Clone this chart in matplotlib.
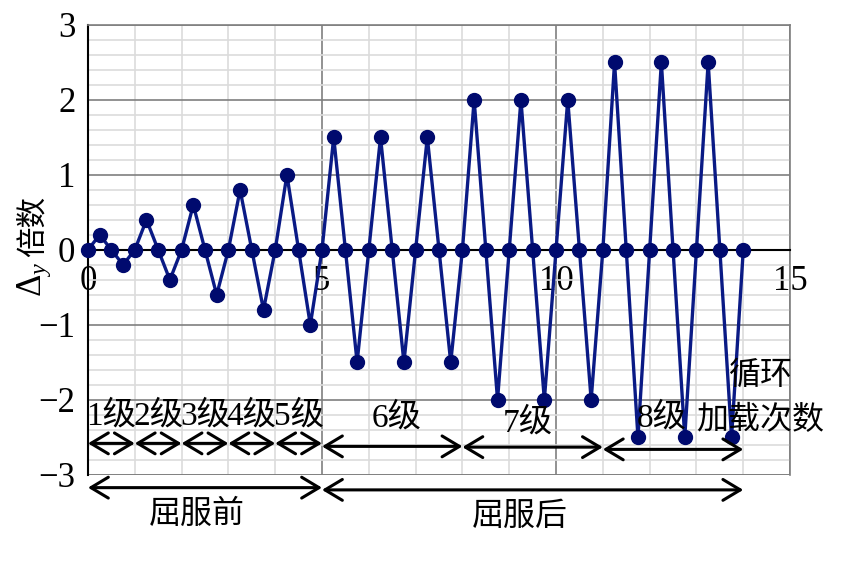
import numpy as np
import matplotlib
matplotlib.use("Agg")
import matplotlib.pyplot as plt

plt.rcParams['font.family'] = ['Liberation Serif', 'Noto Sans CJK SC', 'DejaVu Sans']
plt.rcParams['mathtext.fontset'] = 'custom'
plt.rcParams['mathtext.rm'] = 'Liberation Serif'
plt.rcParams['mathtext.it'] = 'Liberation Serif:italic'
plt.rcParams['axes.unicode_minus'] = True

# Displacement ratio Δ/Δy at each load step (0.25 cycle per step)
dy = [0, 0.2, 0, -0.2, 0, 0.4, 0, -0.4, 0, 0.6, 0, -0.6, 0, 0.8, 0, -0.8,
      0, 1.0, 0, -1.0,
      0, 1.5, 0, -1.5, 0, 1.5, 0, -1.5, 0, 1.5, 0, -1.5,
      0, 2.0, 0, -2.0, 0, 2.0, 0, -2.0, 0, 2.0, 0, -2.0,
      0, 2.5, 0, -2.5, 0, 2.5, 0, -2.5, 0, 2.5, 0, -2.5, 0]
step = 0.25
cycles = np.arange(len(dy)) * step

xticks = [0, 5, 10, 15]
yticks = [-3, -2, -1, 0, 1, 2, 3]

# level annotations
level_start = [0, 1, 2, 3, 4, 5, 8, 11]
level_end = [1, 2, 3, 4, 5, 8, 11, 14]
level_names = ['1级', '2级', '3级', '4级', '5级', '6级', '7级', '8级']
level_label_x = [0.5, 1.5, 2.5, 3.5, 4.5, 6.6, 9.4, 12.25]
level_label_y = [-2.22, -2.22, -2.22, -2.22, -2.22, -2.24, -2.31, -2.24]
level_arrow_y = [-2.58, -2.58, -2.58, -2.58, -2.58, -2.62, -2.63, -2.66]

phase_start = [0, 5]
phase_end = [5, 14]
phase_names = ['屈服前', '屈服后']
phase_label_x = [2.33, 9.23]
phase_arrow_y = [-3.17, -3.2]
phase_label_y = [-3.53, -3.57]

fig = plt.figure(figsize=(8.5, 5.64), dpi=100)
ax = fig.add_axes([0.1035, 0.158, 0.826, 0.798])

ax.set_xlim(0, 15)
ax.set_ylim(-3, 3)

# grid
ax.set_xticks(np.arange(0, 16, 1), minor=True)
ax.set_yticks(np.arange(-3, 3.01, 0.2), minor=True)
ax.set_xticks(xticks)
ax.set_yticks(yticks)
ax.grid(which='minor', color='#dcdcdc', lw=1.2, zorder=0)
ax.grid(which='major', color='#7f7f7f', lw=1.2, zorder=0.5)
ax.set_axisbelow(True)

ax.tick_params(which='both', length=0)
ax.tick_params(axis='y', labelsize=25, pad=9)
ax.tick_params(axis='x', labelsize=25, pad=11)
ax.set_xticklabels([str(t) for t in xticks])
ax.set_yticklabels([str(t).replace('-', '\u2212') for t in yticks])

for s in ['top', 'right']:
    ax.spines[s].set_color('#7f7f7f')
    ax.spines[s].set_linewidth(1.2)
ax.spines['left'].set_color('black')
ax.spines['left'].set_linewidth(1.5)
ax.spines['bottom'].set_position(('data', 0))
ax.spines['bottom'].set_color('black')
ax.spines['bottom'].set_linewidth(1.5)
ax.axhline(-3, color='#7f7f7f', lw=1.2, zorder=0.6)

ax.plot(cycles, dy, color='#0a1a85', lw=2.4, marker='o', markersize=10,
        markerfacecolor='#000a6e', markeredgecolor='#000a6e', clip_on=False, zorder=3)

# y label: italic Delta with subscript y, then Chinese
fig.text(0.040, 0.505, r'$\mathit{Δ}_y$', fontsize=25, rotation=90,
         ha='center', va='center')
fig.text(0.040, 0.598, '倍数', fontsize=22, rotation=90,
         ha='center', va='center')

arrow_kw = dict(arrowstyle='<->,head_length=0.5,head_width=0.3', color='black',
                lw=2.2, mutation_scale=25, shrinkA=0, shrinkB=0)

for s, e, name, lx, ly, ay in zip(level_start, level_end, level_names,
                                  level_label_x, level_label_y, level_arrow_y):
    ax.annotate('', xy=(e, ay), xytext=(s, ay), arrowprops=arrow_kw,
                annotation_clip=False, zorder=4)
    ax.text(lx, ly, name, fontsize=24, ha='center', va='center', zorder=4)

for s, e, name, lx, ay, ly in zip(phase_start, phase_end, phase_names,
                                  phase_label_x, phase_arrow_y, phase_label_y):
    ax.annotate('', xy=(e, ay), xytext=(s, ay), arrowprops=arrow_kw,
                annotation_clip=False, zorder=4)
    ax.text(lx, ly, name, fontsize=23, ha='center', va='center', clip_on=False)

ax.text(14.36, -1.68, '循环', fontsize=23, ha='center', va='center', zorder=4)
ax.text(14.36, -2.28, '加载次数', fontsize=23, ha='center', va='center', zorder=4)

fig.savefig('out.png', dpi=100)
